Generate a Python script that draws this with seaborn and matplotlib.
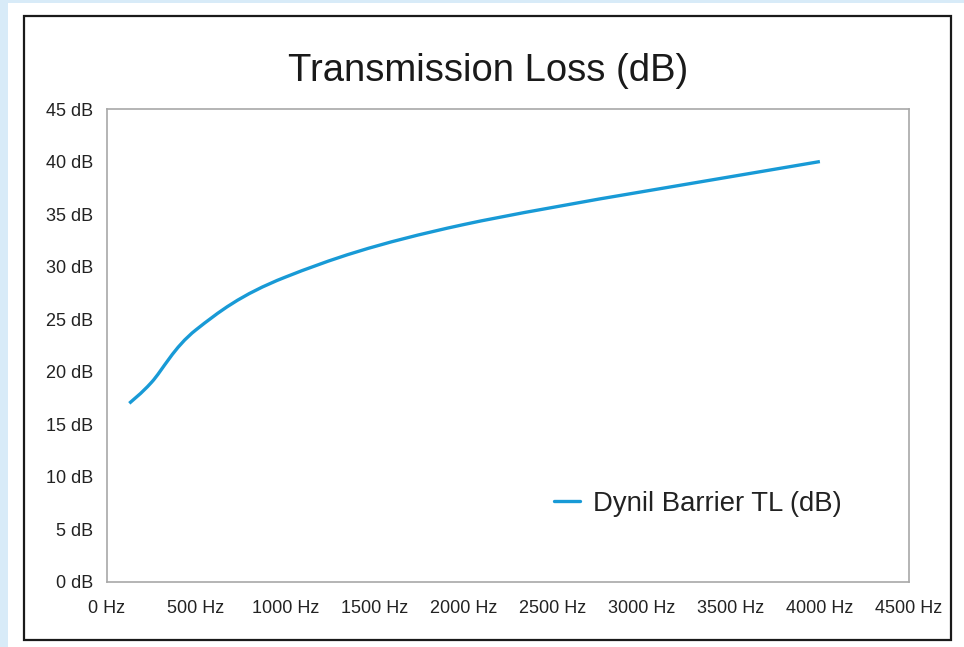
import matplotlib
matplotlib.use("Agg")
import matplotlib.pyplot as plt
import seaborn as sns
import pandas as pd
from matplotlib.patches import Rectangle, PathPatch
from matplotlib.path import Path
from matplotlib.ticker import FuncFormatter, MultipleLocator

freq_hz = [125, 250, 500, 1000, 2000, 4000]
tl_db = [17, 19, 24, 29, 34, 40]
series_name = "Dynil Barrier TL (dB)"
title = "Transmission Loss (dB)"
line_color = "#189ad6"

df = pd.DataFrame({"Frequency": freq_hz, "TL": tl_db, "Series": series_name})

sns.set_theme(style="white")
plt.rcParams["font.family"] = ["Liberation Sans", "DejaVu Sans"]

W, H = 964, 647
fig = plt.figure(figsize=(W / 100, H / 100), dpi=100)
fig.patch.set_facecolor("#d8ebf8")

# white panel and black frame
fig.add_artist(Rectangle((8 / W, 0), 1 - 8 / W, 1 - 3 / H, transform=fig.transFigure,
                         facecolor="white", edgecolor="none", zorder=0))
fig.add_artist(Rectangle((24 / W, 1 - 640 / H), (951 - 24) / W, (640 - 16) / H,
                         transform=fig.transFigure, facecolor="none",
                         edgecolor="#1a1a1a", linewidth=1.6, zorder=1))

ax = fig.add_axes([107 / W, 1 - 582 / H, (909 - 107) / W, (582 - 109) / H])
ax.set_facecolor("white")

sns.lineplot(data=df, x="Frequency", y="TL", hue="Series", palette=[line_color],
             linewidth=2.4, ax=ax, legend=True)

leg = ax.legend(loc="center left",
                bbox_to_anchor=((553 - 107) / (909 - 107) - 0.012, (582 - 504) / (582 - 109)),
                frameon=False, fontsize=19.8, handlelength=0.92, handletextpad=0.5,
                borderaxespad=0)
for t in leg.get_texts():
    t.set_color("#222222")
for h in leg.legend_handles:
    h.set_visible(True)
    h.set_color(line_color)
    h.set_linewidth(2.4)

# Render the series as a smoothed (Excel-style Bezier) curve through the data points
for ln in ax.lines:
    ln.set_visible(False)
pts = list(zip(freq_hz, tl_db))
verts = [pts[0]]
codes = [Path.MOVETO]
n = len(pts)
for i in range(n - 1):
    p_prev = pts[i - 1] if i > 0 else pts[i]
    p0 = pts[i]
    p1 = pts[i + 1]
    p_next = pts[i + 2] if i + 2 < n else pts[i + 1]
    c1 = (p0[0] + (p1[0] - p_prev[0]) / 6, p0[1] + (p1[1] - p_prev[1]) / 6)
    c2 = (p1[0] - (p_next[0] - p0[0]) / 6, p1[1] - (p_next[1] - p0[1]) / 6)
    verts += [c1, c2, p1]
    codes += [Path.CURVE4] * 3
ax.add_patch(PathPatch(Path(verts, codes), facecolor="none", edgecolor=line_color,
                       linewidth=2.4, capstyle="butt", zorder=3))

ax.set_xlim(0, 4500)
ax.set_ylim(0, 45)
ax.xaxis.set_major_locator(MultipleLocator(500))
ax.yaxis.set_major_locator(MultipleLocator(5))
ax.xaxis.set_major_formatter(FuncFormatter(lambda v, p: f"{int(v)} Hz"))
ax.yaxis.set_major_formatter(FuncFormatter(lambda v, p: f"{int(v)} dB"))
ax.tick_params(axis="x", length=0, pad=13, labelsize=13, labelcolor="#222222")
ax.tick_params(axis="y", length=0, pad=10, labelsize=13, labelcolor="#222222")
ax.set_xlabel("")
ax.set_ylabel("")
for s in ax.spines.values():
    s.set_color("#a8a8a8")
    s.set_linewidth(1.2)

fig.text(488 / W, 1 - 71 / H, title, ha="center", va="center", fontsize=27.5,
         color="#1a1a1a")

fig.savefig("out.png", dpi=100, facecolor=fig.get_facecolor())
